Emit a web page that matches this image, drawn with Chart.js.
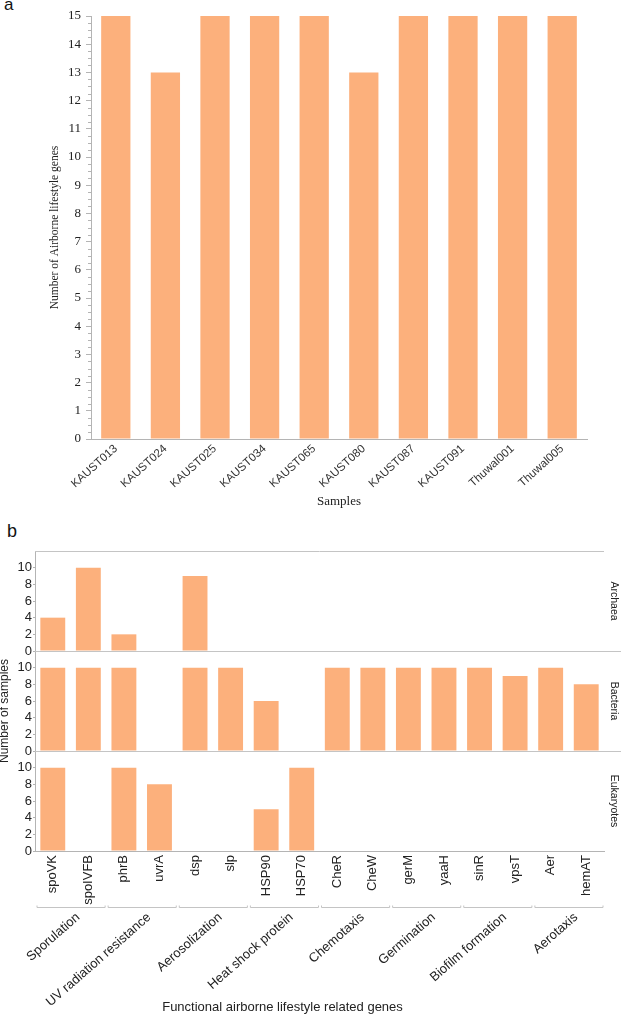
<!DOCTYPE html>
<html>
<head>
<meta charset="utf-8">
<script src="https://cdn.jsdelivr.net/npm/chart.js@4.4.1/dist/chart.umd.min.js"></script>
<style>
  html, body { margin: 0; padding: 0; background: #fff; }
  body { width: 623px; height: 1014px; position: relative; overflow: hidden; font-family: 'Liberation Sans', Arial, sans-serif; }
  canvas { position: absolute; left: 0; }
  #chartA { top: 0; }
  #chartB { top: 512px; }
  .tag { position: absolute; line-height: 1; color: #111; }
</style>
</head>
<body>
<div class="tag" style="left:4px; top:-4px; font-size:17px;">a</div>
<div class="tag" style="left:7px; top:522px; font-size:18px;">b</div>
<canvas id="chartA" width="623" height="512"></canvas>
<canvas id="chartB" width="623" height="502"></canvas>
<script>
// --- Panel a data ---
const sampleNames = ["KAUST013", "KAUST024", "KAUST025", "KAUST034", "KAUST065",
  "KAUST080", "KAUST087", "KAUST091", "Thuwal001", "Thuwal005"];
const lifestyleGeneCounts = [15, 13, 15, 15, 15, 13, 15, 15, 15, 15];

// --- Panel b data ---
const geneNames = ["spoVK", "spoIVFB", "phrB", "uvrA", "dsp", "slp", "HSP90", "HSP70",
  "CheR", "CheW", "gerM", "yaaH", "sinR", "vpsT", "Aer", "hemAT"];
const geneGroups = ["Sporulation", "UV radiation resistance", "Aerosolization", "Heat shock protein",
  "Chemotaxis", "Germination", "Biofilm formation", "Aerotaxis"];
const genesPerGroup = [2, 2, 2, 2, 2, 2, 2, 2];
const archaeaCounts = [4, 10, 2, 0, 9, 0, 0, 0, 0, 0, 0, 0, 0, 0, 0, 0];
const bacteriaCounts = [10, 10, 10, 0, 10, 10, 6, 0, 10, 10, 10, 10, 10, 9, 10, 8];
const eukaryoteCounts = [10, 0, 10, 8, 0, 0, 5, 10, 0, 0, 0, 0, 0, 0, 0, 0];
const domainNames = ["Archaea", "Bacteria", "Eukaryotes"];
const facetTicks = [0, 2, 4, 6, 8, 10];

const barColor = "#fcb07c";
const axisGray = "#b4b4b4";
const sans = "'Liberation Sans', Arial, sans-serif";
const serif = "'Liberation Serif', 'Times New Roman', serif";

// minor ticks (3 between each integer) on the panel a y axis
const minorTicks = {
  id: "minorTicks",
  afterDraw(chart) {
    const y = chart.scales.y;
    const ctx = chart.ctx;
    ctx.save();
    ctx.strokeStyle = axisGray;
    ctx.lineWidth = 1;
    for (let v = y.min; v < y.max; v++) {
      for (let k = 1; k < 4; k++) {
        const py = Math.round(y.getPixelForValue(v + k / 4)) + 0.5;
        ctx.beginPath();
        ctx.moveTo(y.right - 3, py);
        ctx.lineTo(y.right, py);
        ctx.stroke();
      }
    }
    ctx.restore();
  }
};

new Chart(document.getElementById("chartA"), {
  type: "bar",
  data: {
    labels: sampleNames,
    datasets: [{
      data: lifestyleGeneCounts,
      backgroundColor: barColor,
      barPercentage: 0.59,
      categoryPercentage: 1
    }]
  },
  options: {
    responsive: false,
    animation: false,
    layout: { padding: { top: 16, right: 36, left: 0, bottom: 0 } },
    plugins: { legend: { display: false }, tooltip: { enabled: false } },
    scales: {
      x: {
        grid: { display: false, drawTicks: false },
        border: { display: true, color: axisGray },
        ticks: { autoSkip: false, minRotation: 42, maxRotation: 42, padding: 3, color: "#333", font: { family: sans, size: 11.5 } },
        title: { display: true, text: "Samples", color: "#222", font: { family: serif, size: 13 }, padding: { top: 0, bottom: 3 } },
        afterFit: (s) => { s.height = 73; }
      },
      y: {
        min: 0,
        max: 15,
        ticks: { stepSize: 1, padding: 5, color: "#222", font: { family: serif, size: 13 } },
        grid: { drawOnChartArea: false, drawTicks: true, tickLength: 5, color: axisGray },
        border: { display: true, color: axisGray },
        title: { display: true, text: "Number of Airborne lifestyle genes", color: "#222", font: { family: serif, size: 11.5 }, padding: { top: 48, bottom: 0 } },
        afterFit: (s) => { s.width = 91; }
      }
    }
  },
  plugins: [minorTicks]
});

// --- Panel b: three stacked facets sharing one category axis ---
const facetScale = (weight) => ({
  type: "linear",
  position: "left",
  stack: "facets",
  stackWeight: 1,
  weight: weight,
  min: 0,
  max: 12,
  afterBuildTicks: (s) => { s.ticks = facetTicks.map((v) => ({ value: v })); },
  ticks: { autoSkip: false, padding: 1, color: "#222", font: { family: sans, size: 13 } },
  grid: { drawOnChartArea: false, drawTicks: true, tickLength: 2, color: axisGray },
  border: { display: true, color: axisGray },
  afterFit: (s) => { s.width = 35; }
});

const facetDecor = {
  id: "facetDecor",
  afterDraw(chart) {
    const { ctx, chartArea, scales } = chart;
    const x = scales.x;
    const facets = [scales.yA, scales.yB, scales.yE];
    ctx.save();
    ctx.strokeStyle = "#c4c4c4";
    ctx.lineWidth = 1;

    // frame line at the top of each facet
    facets.forEach((s, i) => {
      const py = Math.round(s.top) + 0.5;
      ctx.beginPath();
      ctx.moveTo(chartArea.left, py);
      ctx.lineTo(i === 0 ? chartArea.right : chartArea.right + 17, py);
      ctx.stroke();
    });

    // facet strip labels on the right
    ctx.fillStyle = "#222";
    ctx.font = `10.5px ${sans}`;
    ctx.textAlign = "center";
    ctx.textBaseline = "middle";
    facets.forEach((s, i) => {
      ctx.save();
      ctx.translate(chartArea.right + 10, (s.top + s.bottom) / 2);
      ctx.rotate(Math.PI / 2);
      ctx.fillText(domainNames[i], 0, 0);
      ctx.restore();
    });

    // group brackets + labels under the gene names
    const half = (x.getPixelForValue(1) - x.getPixelForValue(0)) / 2;
    const by = Math.round(chartArea.bottom + 56) + 0.5;
    ctx.font = `13px ${sans}`;
    ctx.textAlign = "right";
    let first = 0;
    geneGroups.forEach((g, i) => {
      const last = first + genesPerGroup[i] - 1;
      const x1 = x.getPixelForValue(first) - half + 2;
      const x2 = x.getPixelForValue(last) + half - 1;
      ctx.beginPath();
      ctx.moveTo(x1, by - 2);
      ctx.lineTo(x1, by);
      ctx.lineTo(x2, by);
      ctx.lineTo(x2, by - 2);
      ctx.stroke();
      ctx.save();
      ctx.translate((x1 + x2) / 2 + 7, by + 8);
      ctx.rotate(-0.72);
      ctx.fillText(g, 0, 0);
      ctx.restore();
      first = last + 1;
    });

    // axis titles
    ctx.font = `13px ${sans}`;
    ctx.textAlign = "center";
    ctx.fillText("Functional airborne lifestyle related genes",
      chartArea.left + (chartArea.right - chartArea.left) * 0.435, chart.height - 7);
    ctx.font = `12px ${sans}`;
    ctx.save();
    ctx.translate(5, (scales.yB.top + scales.yB.bottom) / 2 + 10);
    ctx.rotate(-Math.PI / 2);
    ctx.fillText("Number of samples", 0, 0);
    ctx.restore();

    ctx.restore();
  }
};

const facetDataset = (values, axisId) => ({
  data: values,
  yAxisID: axisId,
  backgroundColor: barColor,
  grouped: false,
  barPercentage: 0.7,
  categoryPercentage: 1
});

new Chart(document.getElementById("chartB"), {
  type: "bar",
  data: {
    labels: geneNames,
    datasets: [
      facetDataset(archaeaCounts, "yA"),
      facetDataset(bacteriaCounts, "yB"),
      facetDataset(eukaryoteCounts, "yE")
    ]
  },
  options: {
    responsive: false,
    animation: false,
    layout: { padding: { top: 39, right: 19, left: 0, bottom: 0 } },
    plugins: { legend: { display: false }, tooltip: { enabled: false } },
    scales: {
      x: {
        grid: { display: false, drawTicks: false },
        border: { display: true, color: axisGray },
        ticks: { autoSkip: false, minRotation: 90, maxRotation: 90, padding: 4, color: "#222", font: { family: sans, size: 13 } },
        afterFit: (s) => { s.height = 163; }
      },
      yE: facetScale(1),
      yB: facetScale(2),
      yA: facetScale(3)
    }
  },
  plugins: [facetDecor]
});
</script>
</body>
</html>
